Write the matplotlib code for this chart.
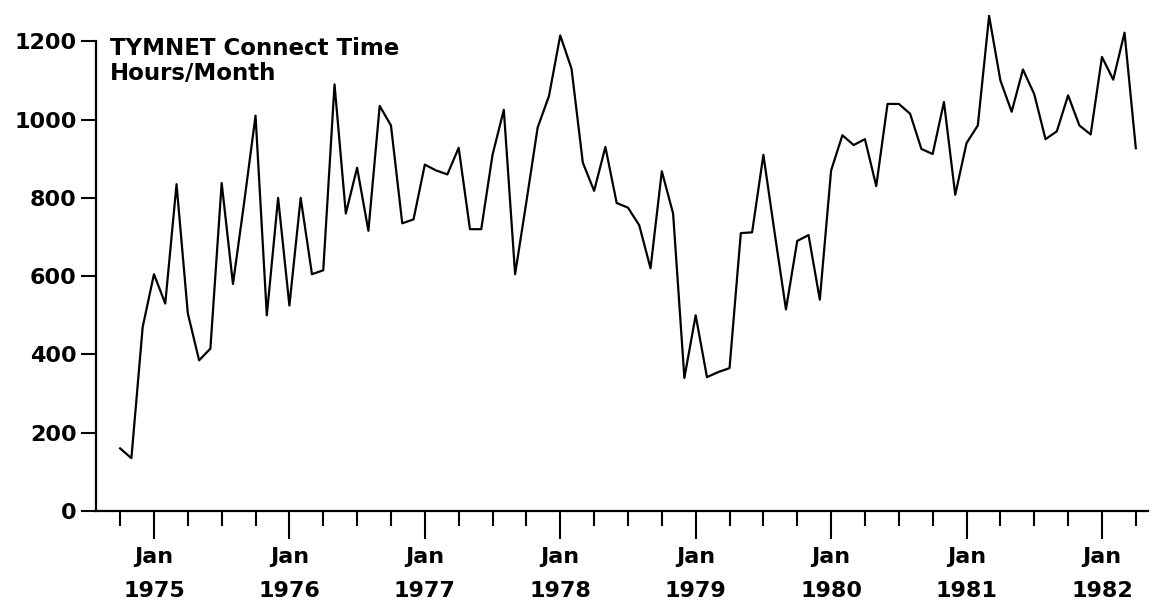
import matplotlib.pyplot as plt
import numpy as np

plt.rcParams['font.family'] = 'DejaVu Sans'
plt.rcParams['font.weight'] = 'bold'

# monthly connect time, Oct 1974 .. Apr 1982
start_year, start_month = 1974, 10
hours_1974 = [160, 135, 470]
hours_1975 = [605, 530, 835, 505, 385, 415, 838, 580, 790, 1010, 500, 800]
hours_1976 = [525, 800, 605, 615, 1090, 760, 877, 716, 1035, 985, 735, 745]
hours_1977 = [885, 870, 860, 928, 720, 720, 910, 1025, 605, 790, 980, 1060]
hours_1978 = [1215, 1130, 890, 818, 930, 787, 775, 730, 620, 868, 760, 340]
hours_1979 = [500, 342, 355, 365, 710, 712, 910, 710, 515, 690, 705, 540]
hours_1980 = [870, 960, 935, 950, 830, 1040, 1040, 1015, 925, 912, 1045, 808]
hours_1981 = [940, 985, 1265, 1100, 1020, 1128, 1065, 950, 970, 1062, 985, 962]
hours_1982 = [1160, 1102, 1222, 927]

years = list(range(1975, 1983))
y_ticks = [0, 200, 400, 600, 800, 1000, 1200]

hours = np.array(hours_1974 + hours_1975 + hours_1976 + hours_1977 + hours_1978
                 + hours_1979 + hours_1980 + hours_1981 + hours_1982)
t = start_year + (start_month - 1) / 12 + np.arange(len(hours)) / 12

fig = plt.figure(figsize=(11.66, 6.09), dpi=100)
ax = fig.add_axes([96 / 1166, 98 / 609, 1052 / 1166, 501 / 609])

ax.plot(t, hours, color='black', linewidth=1.6, solid_joinstyle='round')

ax.set_xlim(1974.572, 1982.34)
ax.set_ylim(0, 1280)

for side in ['top', 'right']:
    ax.spines[side].set_visible(False)
ax.spines['left'].set_bounds(0, 1200)
for side in ['left', 'bottom']:
    ax.spines[side].set_linewidth(1.6)

ax.set_yticks(y_ticks)
ax.tick_params(axis='y', direction='out', length=11, width=1.5, pad=3,
               labelsize=16)

ax.set_xticks(years, labels=[f'Jan\n{y}' for y in years])
ax.set_xticks(np.arange(1974.75, 1982.3, 0.25), minor=True)
ax.tick_params(axis='x', which='major', direction='out', length=20, width=1.5,
               pad=6, labelsize=16)
ax.tick_params(axis='x', which='minor', direction='out', length=11, width=1.5)
for lbl in ax.get_xticklabels():
    lbl.set_linespacing(1.85)

ax.text(0.013, 0.910, 'TYMNET Connect Time', transform=ax.transAxes,
        fontsize=16.5, va='baseline', ha='left')
ax.text(0.013, 0.860, 'Hours/Month', transform=ax.transAxes,
        fontsize=16.5, va='baseline', ha='left')

fig.savefig('out.png', dpi=100)
